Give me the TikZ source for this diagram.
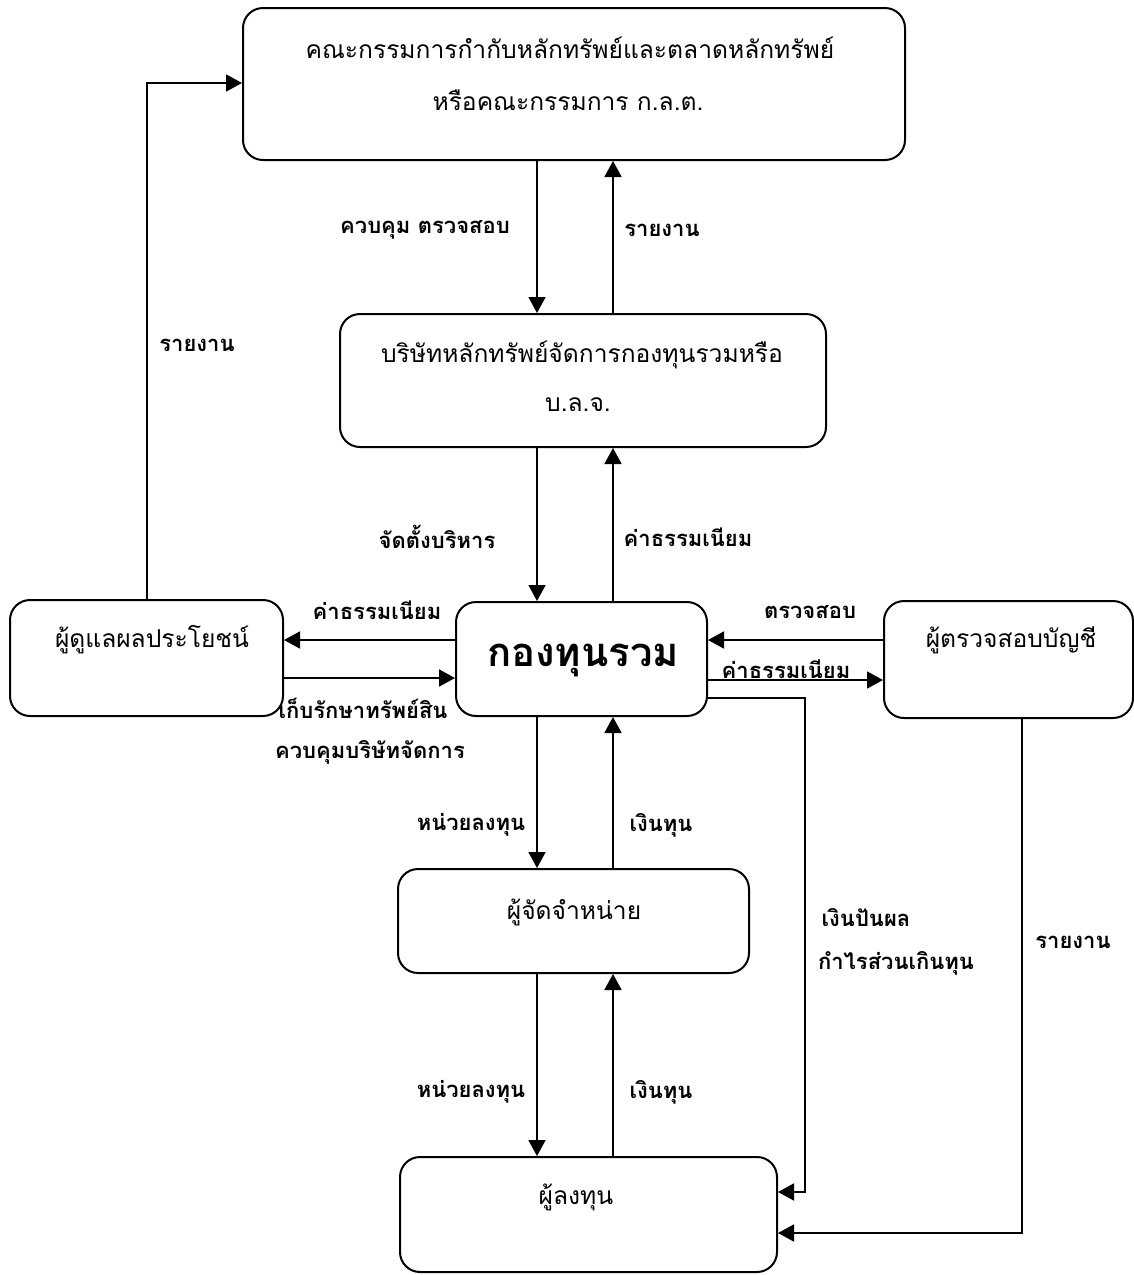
\documentclass[tikz,border=0pt]{standalone}
\usepackage{fontspec}
\newfontfamily\thai[Script=Thai]{Loma}
\usetikzlibrary{arrows.meta}
\begin{document}
\begin{tikzpicture}[x=0.5pt,y=-0.5pt,
  box/.style={draw,line width=1pt,rounded corners=10pt,inner sep=0pt},
  arr/.style={line width=0.9pt,-{Triangle[length=8pt,width=8.5pt]}},
  btxt/.style={font=\thai\fontsize{12.3}{15}\selectfont,inner sep=0pt},
  lbl/.style={font=\thai\bfseries\fontsize{11}{13}\selectfont,inner sep=0pt}]
\useasboundingbox (0,0) rectangle (1134,1275);
% boxes
\node[box,minimum width=331pt,minimum height=76pt] (sec) at (574,84) {};
\node[box,minimum width=243pt,minimum height=66.5pt] (mgmt) at (583,380.5) {};
\node[box,minimum width=136.5pt,minimum height=58pt] (trus) at (146.5,658) {};
\node[box,minimum width=125.5pt,minimum height=57pt] (fund) at (581.5,659) {};
\node[box,minimum width=124.5pt,minimum height=58.5pt] (aud) at (1008.5,659.5) {};
\node[box,minimum width=175.5pt,minimum height=52pt] (dist) at (573.5,921) {};
\node[box,minimum width=188.5pt,minimum height=57.5pt] (inv) at (588.5,1214.5) {};
% box texts
\node[btxt] (t1a) at (570,48) {คณะกรรมการกำกับหลักทรัพย์และตลาดหลักทรัพย์};
\node[btxt] (t1b) at (568,100) {หรือคณะกรรมการ ก.ล.ต.};
\node[btxt] (t2a) at (582,355) {บริษัทหลักทรัพย์จัดการกองทุนรวมหรือ};
\node[btxt] (t2b) at (578,405) {บ.ล.จ.};
\node[btxt] (t3) at (152,640) {ผู้ดูแลผลประโยชน์};
\node[btxt,font=\thai\bfseries\fontsize{20}{24}\selectfont] (t4) at (583,660) {กองทุนรวม};
\node[btxt] (t5) at (1011,640) {ผู้ตรวจสอบบัญชี};
\node[btxt] (t6) at (574,912) {ผู้จัดจำหน่าย};
\node[btxt] (t7) at (576,1197) {ผู้ลงทุน};
% x positions
\coordinate (xl) at (537,0);
\coordinate (xr) at (613,0);
% vertical arrows
\draw[arr] (sec.south -| xl) -- (mgmt.north -| xl);
\draw[arr] (mgmt.north -| xr) -- (sec.south -| xr);
\draw[arr] (mgmt.south -| xl) -- (fund.north -| xl);
\draw[arr] (fund.north -| xr) -- (mgmt.south -| xr);
\draw[arr] (fund.south -| xl) -- (dist.north -| xl);
\draw[arr] (dist.north -| xr) -- (fund.south -| xr);
\draw[arr] (dist.south -| xl) -- (inv.north -| xl);
\draw[arr] (inv.north -| xr) -- (dist.south -| xr);
% trustee to SEC
\coordinate (c1) at (147,83);
\draw[arr] (trus.north -| c1) -- (c1) -- (sec.west |- c1);
% horizontal arrows
\coordinate (ya) at (0,640);
\coordinate (yb) at (0,678);
\coordinate (yc) at (0,680);
\draw[arr] (fund.west |- ya) -- (trus.east |- ya);
\draw[arr] (trus.east |- yb) -- (fund.west |- yb);
\draw[arr] (aud.west |- ya) -- (fund.east |- ya);
\draw[arr] (fund.east |- yc) -- (aud.west |- yc);
% fund to investor
\coordinate (c2) at (805,698);
\coordinate (c3) at (805,1192);
\draw[arr] (fund.east |- c2) -- (c2) -- (c3) -- (inv.east |- c3);
% auditor to investor
\coordinate (c4) at (1022,1233);
\draw[arr] (aud.south -| c4) -- (c4) -- (inv.east |- c4);
% labels
\node[lbl] (l1) at (425,230) {ควบคุม ตรวจสอบ};
\node[lbl] (l2) at (662,230) {รายงาน};
\node[lbl] (l3) at (197,345) {รายงาน};
\node[lbl] (l4) at (437,537) {จัดตั้งบริหาร};
\node[lbl] (l5) at (688,537) {ค่าธรรมเนียม};
\node[lbl] (l6) at (377,610) {ค่าธรรมเนียม};
\node[lbl] (l7) at (363,708) {เก็บรักษาทรัพย์สิน};
\node[lbl] (l8) at (370,752) {ควบคุมบริษัทจัดการ};
\node[lbl] (l9) at (810,612) {ตรวจสอบ};
\node[lbl] (l10) at (786,669) {ค่าธรรมเนียม};
\node[lbl] (l11) at (471,825) {หน่วยลงทุน};
\node[lbl] (l12) at (661,825) {เงินทุน};
\node[lbl] (l13) at (866,918) {เงินปันผล};
\node[lbl] (l14) at (896,963) {กำไรส่วนเกินทุน};
\node[lbl] (l15) at (1073,942) {รายงาน};
\node[lbl] (l16) at (471,1092) {หน่วยลงทุน};
\node[lbl] (l17) at (661,1092) {เงินทุน};
\end{tikzpicture}
\end{document}
